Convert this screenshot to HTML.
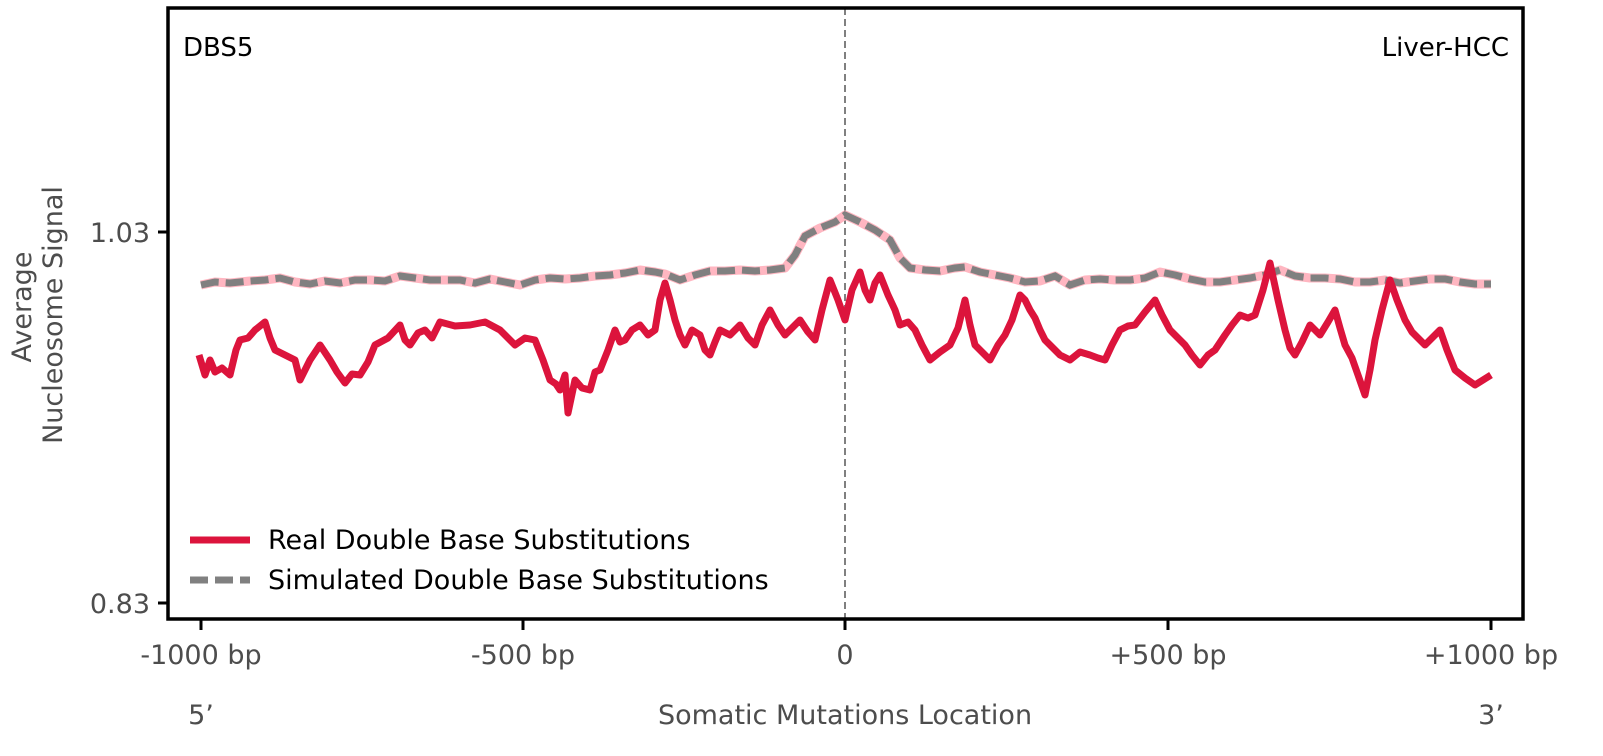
<!DOCTYPE html>
<html><head><meta charset="utf-8"><style>
body{margin:0;background:#fff;}
svg{display:block;font-family:"DejaVu Sans","Liberation Sans",sans-serif;}
</style></head><body>
<svg width="1603" height="756" viewBox="0 0 1603 756" xmlns="http://www.w3.org/2000/svg">
<rect x="0" y="0" width="1603" height="756" fill="#fff"/>
<line x1="845" y1="8" x2="845" y2="619" stroke="#808080" stroke-width="2" stroke-dasharray="7,4"/>
<polyline fill="none" stroke="#ffb6c1" stroke-width="9" stroke-linejoin="round" points="201,285 215,282 230,283 250,281 265,280 280,278 295,282 310,284 325,281 340,283 355,280 370,280 385,281 400,276 415,278 430,280 445,280 460,280 475,283 490,279 505,282 520,285 535,280 550,278 565,279 580,278 595,276 610,275 625,273 640,270 655,272 665,274 680,280 695,275 710,271 725,271 740,270 755,271 770,270 785,268 795,255 805,236 820,228 835,222 845,215 860,222 875,230 890,240 900,258 910,268 925,270 940,271 955,268 965,267 980,272 995,275 1010,278 1025,282 1040,281 1055,276 1070,285 1085,280 1100,279 1115,280 1130,280 1145,278 1160,272 1175,275 1190,279 1205,282 1220,282 1235,280 1250,278 1265,275 1280,270 1295,276 1310,278 1325,278 1340,279 1355,282 1370,282 1385,280 1400,283 1415,281 1430,279 1445,279 1460,282 1475,284 1491,284"/>
<polyline fill="none" stroke="#808080" stroke-width="7" stroke-dasharray="18,7" points="201,285 215,282 230,283 250,281 265,280 280,278 295,282 310,284 325,281 340,283 355,280 370,280 385,281 400,276 415,278 430,280 445,280 460,280 475,283 490,279 505,282 520,285 535,280 550,278 565,279 580,278 595,276 610,275 625,273 640,270 655,272 665,274 680,280 695,275 710,271 725,271 740,270 755,271 770,270 785,268 795,255 805,236 820,228 835,222 845,215 860,222 875,230 890,240 900,258 910,268 925,270 940,271 955,268 965,267 980,272 995,275 1010,278 1025,282 1040,281 1055,276 1070,285 1085,280 1100,279 1115,280 1130,280 1145,278 1160,272 1175,275 1190,279 1205,282 1220,282 1235,280 1250,278 1265,275 1280,270 1295,276 1310,278 1325,278 1340,279 1355,282 1370,282 1385,280 1400,283 1415,281 1430,279 1445,279 1460,282 1475,284 1491,284"/>
<polyline fill="none" stroke="#dc143c" stroke-width="7" stroke-linejoin="round" points="199,355 205,375 210,360 215,372 222,368 230,375 236,350 240,340 248,338 255,330 265,322 270,338 275,350 285,355 295,360 300,380 310,360 320,345 330,360 337,372 345,383 352,374 360,375 368,362 375,345 388,338 400,325 405,340 410,345 418,333 425,330 432,338 440,322 455,326 470,325 485,322 500,330 508,338 515,345 525,338 535,340 543,360 550,380 556,384 560,390 565,375 568,413 575,380 582,388 590,390 595,372 600,370 608,350 615,330 620,342 625,340 632,330 640,325 648,335 655,330 660,300 665,283 670,300 675,320 680,335 685,345 692,330 700,335 705,350 710,355 715,342 720,330 730,335 740,325 748,338 755,345 762,325 770,310 778,325 785,335 792,328 800,320 808,332 815,340 822,310 830,280 838,300 845,320 852,290 860,272 865,290 870,300 875,283 880,275 888,295 895,310 900,325 908,322 915,330 922,345 930,360 940,352 950,345 958,328 965,300 970,325 975,345 982,352 990,360 998,345 1005,335 1012,320 1020,295 1025,300 1030,310 1035,318 1040,330 1045,340 1050,345 1060,355 1070,360 1080,352 1090,355 1098,358 1105,360 1112,345 1120,330 1128,326 1135,325 1145,312 1155,300 1162,315 1170,330 1178,338 1185,345 1192,355 1200,365 1208,355 1215,350 1225,335 1232,325 1240,315 1248,318 1255,315 1263,290 1270,263 1278,300 1285,330 1290,348 1295,355 1302,342 1310,325 1315,330 1320,335 1328,322 1335,310 1340,328 1345,345 1352,358 1358,375 1365,395 1370,370 1375,340 1382,310 1390,280 1397,300 1405,320 1412,332 1425,345 1432,338 1440,330 1447,350 1455,370 1465,378 1475,385 1483,380 1491,375"/>
<rect x="168" y="8" width="1355" height="611" fill="none" stroke="#000" stroke-width="3.5"/>
<line x1="158" y1="232" x2="168" y2="232" stroke="#000" stroke-width="3"/>
<line x1="158" y1="603" x2="168" y2="603" stroke="#000" stroke-width="3"/>
<g fill="#4d4d4d" font-size="27">
<text x="150" y="242" text-anchor="end">1.03</text>
<text x="150" y="613" text-anchor="end">0.83</text>
</g>
<g stroke="#000" stroke-width="3">
<line x1="201" y1="619" x2="201" y2="630"/><line x1="523" y1="619" x2="523" y2="630"/><line x1="845" y1="619" x2="845" y2="630"/><line x1="1168" y1="619" x2="1168" y2="630"/><line x1="1491" y1="619" x2="1491" y2="630"/>
</g>
<g fill="#4d4d4d" font-size="27" text-anchor="middle">
<text x="201" y="664">-1000 bp</text>
<text x="523" y="664">-500 bp</text>
<text x="845" y="664">0</text>
<text x="1168" y="664">+500 bp</text>
<text x="1491" y="664">+1000 bp</text>
<text x="201" y="724">5’</text>
<text x="845" y="724">Somatic Mutations Location</text>
<text x="1491" y="724">3’</text>
</g>
<g fill="#4d4d4d" font-size="27" text-anchor="middle">
<text transform="translate(31,307) rotate(-90)">Average</text>
<text transform="translate(62,315) rotate(-90)">Nucleosome Signal</text>
</g>
<text x="183" y="56" font-size="26" fill="#000">DBS5</text>
<text x="1509" y="56" font-size="26" fill="#000" text-anchor="end">Liver-HCC</text>
<line x1="190" y1="540" x2="250" y2="540" stroke="#dc143c" stroke-width="7"/>
<line x1="190" y1="580" x2="250" y2="580" stroke="#808080" stroke-width="7" stroke-dasharray="18,7"/>
<text x="268" y="549" font-size="27" fill="#000">Real Double Base Substitutions</text>
<text x="268" y="589" font-size="27" fill="#000">Simulated Double Base Substitutions</text>
</svg>
</body></html>
